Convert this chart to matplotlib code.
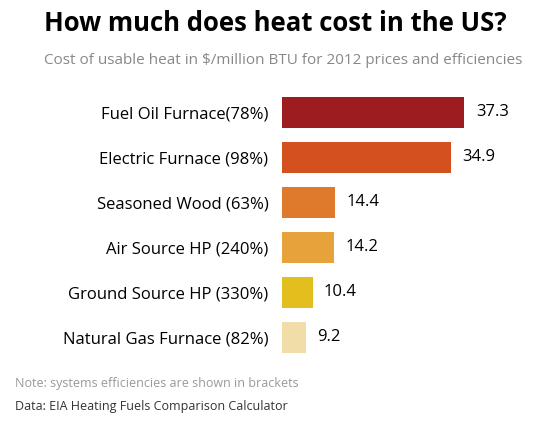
import matplotlib
matplotlib.use("Agg")
import matplotlib.pyplot as plt

categories = ["Fuel Oil Furnace(78%)", "Electric Furnace (98%)", "Seasoned Wood (63%)",
              "Air Source HP (240%)", "Ground Source HP (330%)", "Natural Gas Furnace (82%)"]
values = [37.3, 34.9, 14.4, 14.2, 10.4, 9.2]
colors = ["#9C1C1F", "#D5501F", "#DF7A2D", "#E8A23B", "#E2BF1C", "#F1DDA8"]

plt.rcParams['font.family'] = ['Open Sans', 'DejaVu Sans']
fig = plt.figure(figsize=(5.5, 4.22), dpi=100)
ax = fig.add_axes([0.513, 0.147, 0.467, 0.64])
y = list(range(len(values)))
ax.barh(y, values, color=colors, height=0.7)
ax.set_xlim(5, 50.5)
ax.set_ylim(len(values) - 0.5, -0.5)
ax.set_yticks(y)
ax.set_yticklabels(categories, fontsize=12)
ax.tick_params(axis='y', length=0, pad=10)
ax.set_xticks([])
for s in ax.spines.values():
    s.set_visible(False)
for yi, v in zip(y, values):
    ax.text(v + 2, yi, f"{v}", va='center', ha='left', fontsize=12)

fig.text(0.5, 0.945, "How much does heat cost in the US?", ha='center', va='center',
         fontsize=18.5, fontweight='bold')
fig.text(0.515, 0.857, "Cost of usable heat in $/million BTU for 2012 prices and efficiencies",
         ha='center', va='center', fontsize=11, color='#888888')
fig.text(0.027, 0.092, "Note: systems efficiencies are shown in brackets", ha='left',
         va='center', fontsize=9, color='#999999')
fig.text(0.027, 0.037, "Data: EIA Heating Fuels Comparison Calculator", ha='left',
         va='center', fontsize=9, color='#333333')
fig.savefig("out.png", dpi=100)
